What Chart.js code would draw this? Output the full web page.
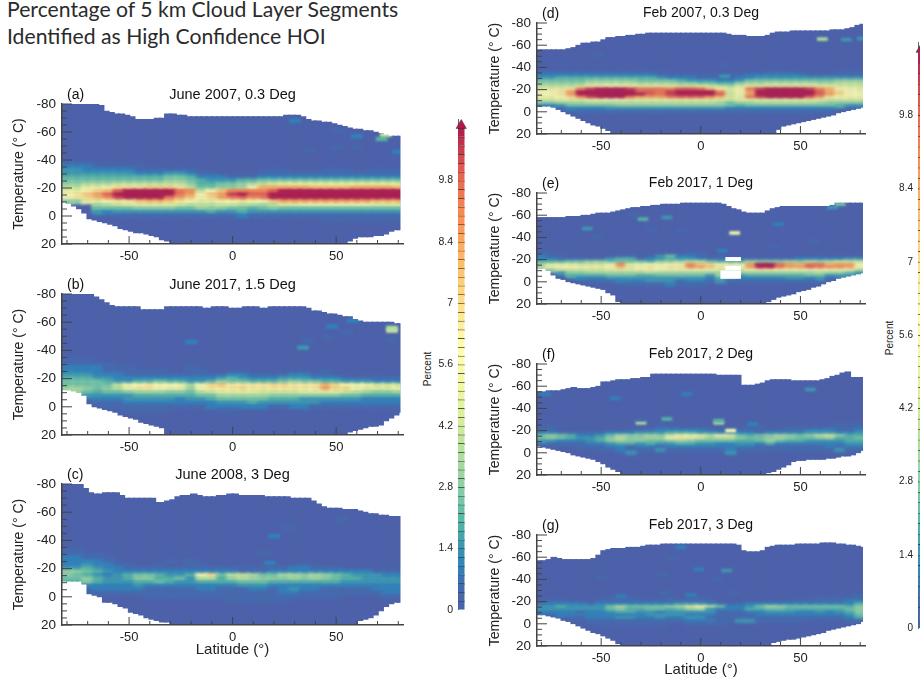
<!DOCTYPE html>
<html lang="en">
<head>
<meta charset="UTF-8">
<title>Percentage of 5 km Cloud Layer Segments</title>
<script src="https://cdn.jsdelivr.net/npm/chart.js"></script>
<style>
  html, body { margin: 0; padding: 0; background: #fff; overflow: hidden; width: 920px; height: 679px; }
  canvas { position: absolute; }
  #heading { position: absolute; left: 7px; top: -4px; font: 21.2px/27px Lato, sans-serif; color: #2b2b2b; white-space: nowrap; }
  .pct { position: absolute; font: 10px "Liberation Sans", sans-serif; color: #222; transform: translate(-50%, -50%) rotate(-90deg); }
</style>
</head>
<body>
<div id="heading">Percentage of 5 km Cloud Layer Segments<br>Identified as High Confidence HOI</div>
<span class="pct" style="left:427px;top:369px">Percent</span>
<span class="pct" style="left:889px;top:338px">Percent</span>

<script>
// latitude of each column in the cloud envelope (top/bottom arrays below)
const envLats = [-81.25,-78.75,-76.25,-73.75,-71.25,-68.75,-66.25,-63.75,-61.25,-58.75,-56.25,
  -53.75,-51.25,-48.75,-46.25,-43.75,-41.25,-38.75,-36.25,-33.75,-31.25,-28.75,
  -26.25,-23.75,-21.25,-18.75,-16.25,-13.75,-11.25,-8.75,-6.25,-3.75,-1.25,
  1.25,3.75,6.25,8.75,11.25,13.75,16.25,18.75,21.25,23.75,26.25,
  28.75,31.25,33.75,36.25,38.75,41.25,43.75,46.25,48.75,51.25,53.75,
  56.25,58.75,61.25,63.75,66.25,68.75,71.25,73.75,76.25,78.75,81.25];

// columns and rows of the percent cells
const cellLats = [-80,-75,-70,-65,-60,-55,-50,-45,-40,-35,-30,-25,-20,-15,-10,-5,0,5,10,15,20,25,30,35,40,45,50,55,60,65,70,75,80];
const cellTemps = [-37.5,-35,-32.5,-30,-27.5,-25,-22.5,-20,-17.5,-15,-12.5,-10,-7.5,-5,-2.5,0,2.5,5];

const xTickLabels = [-50,0,50];
const yTickLabels = [-80,-60,-40,-20,0,20];
const barTickLabels = [0,1.4,2.8,4.2,5.6,7,8.4,9.8];
const barLevels = [0,.2,.4,.6,.8,1,1.2,1.4,1.6,1.8,2,2.2,2.4,2.6,2.8,3,3.2,3.4,3.6,3.8,4,4.2,4.4,4.6,4.8,5,5.2,5.4,5.6,5.8,
  6,6.2,6.4,6.6,6.8,7,7.2,7.4,7.6,7.8,8,8.2,8.4,8.6,8.8,9,9.2,9.4,9.6,9.8,10,10.2,10.4,10.6,10.8];

// colour scale
const colorVals = [0,0.5,1,1.5,2,2.5,3,3.5,4,4.5,5,5.5,6,7,8,9,10,11];
const colorHex = ['#4c61a9','#4569ae','#2f82ba','#3b99b2','#55b6a6','#74c8a5','#95d5a3','#aede9f','#c5e89c','#dcf09b','#eef7a0','#f9fbac','#ffffb0','#fedf8a','#fdba66','#f98e52','#e8604f','#b2184a'];

// cell rows: one char per latitude column, value = base36 digit * 0.5 percent
const aTop = [-80,-80,-80,-80,-80,-80,-80,-79,-75,-74,-73,
  -73,-72,-71,-69,-69,-69,-69,-70,-70,-73,-73,
  -72,-72,-71,-71,-71,-71,-71,-71,-71,-71,-71,
  -71,-71,-71,-71,-71,-71,-71,-71,-71,-71,-72,
  -72,-72,-71,-69,-68,-68,-67,-67,-66,-65,-64,
  -63,-62,-62,-61,-61,-60,-59,-58,-57,-57,-57];
const aBottom = [-10,-9,-7,-5,-2,2,3,4,5,6,7,
  9,10,11,12,12,13,14,15,17,18,19,
  20,20,20,20,20,20,20,20,20,20,20,
  20,20,20,20,20,20,20,20,20,20,20,
  20,20,20,20,20,20,20,20,20,20,20,
  18,16,15,15,15,14,14,13,11,10,10];
const aCells = [
  "11100 00000 00000 00000 00000 00000 000",
  "22211 11100 00000 00000 00000 00000 000",
  "33222 22111 11100 00000 11000 11100 111",
  "33333 33222 33211 00001 11111 11111 111",
  "44444 44444 55422 21112 22222 22222 222",
  "55555 55555 66543 33445 55555 55555 555",
  "66777 88888 88644 55678 9aaaa aaaaa aaa",
  "88aab dddee ed855 667cg ggggf fffgg ggf",
  "aacef kmmmm mji8c fiiii kmmmm mmmmm mmm",
  "cdfhk mmmmm mjhcf hlmkk mmmmm mmmmm mmm",
  "cdegi lmmmm jhfbe hjkij mmmmm mmmmm mmm",
  "66aac ddfgg fdcaa bcdcc fhhhh hhhhh ggg",
  "00078 9aaaa a9888 99887 8aabb bbbbb aaa",
  "00055 55666 65576 65545 65555 55555 555",
  "00032 33333 33334 33433 33333 33333 333",
  "00000 11111 11111 11211 11111 11111 111",
  "00000 00000 00000 00000 00000 11111 111",
  ""];
const aSpotLat = [30,60,72,74,37,51,51,60,80];
const aSpotTemp = [-68,-57,-55,-58,-47,-49,-61,-49,-46];
const aSpotVal = [1,1,2,4,.5,.5,.5,.5,1];

const bTop = [-80,-80,-80,-80,-80,-80,-78,-76,-74,-72,-71,
  -71,-71,-71,-71,-69,-69,-69,-69,-69,-71,-71,
  -71,-71,-71,-71,-71,-70,-70,-71,-71,-71,-70,
  -70,-70,-71,-71,-71,-70,-70,-71,-71,-71,-71,
  -71,-71,-71,-70,-68,-68,-67,-66,-66,-65,-64,
  -64,-62,-61,-60,-60,-60,-60,-60,-60,-59,-59];
const bBottom = [-12,-12,-11,-10,-8,-2,0,1,2,3,4,
  6,7,8,9,11,12,13,14,15,20,20,
  20,20,20,20,20,20,20,20,20,20,20,
  20,20,20,20,20,20,20,20,20,20,20,
  20,20,20,20,20,20,20,20,20,20,20,
  18,17,16,15,14,14,13,10,8,6,4];
const bCells = [
  "",
  "",
  "11100 00000 00000 00000 00000 00000 000",
  "11111 00000 00000 00000 00000 00000 000",
  "22221 11000 00100 00000 00000 00000 000",
  "22221 11111 00110 00000 00000 10000 000",
  "33322 21111 11111 12211 11221 10000 000",
  "44433 22222 22222 34322 23332 22111 111",
  "55554 33445 44334 65544 45655 44333 222",
  "55555 8bcdc cb7ce fdddd eeddd gecbb 999",
  "77656 8bddc bb7cd ddedd ddddd heeca aab",
  "67545 56777 66589 aaaa9 999aa aa987 667",
  "00333 33444 44455 77777 66666 66554 444",
  "00022 23333 32334 55555 44433 33332 222",
  "00011 12222 22222 33343 33333 22222 222",
  "00001 11111 11112 22222 11221 11111 111",
  "00000 01111 00000 11000 00000 00000 000",
  ""];
const bSpotLat = [48,55,58,77,77,34,36,-20,46,77];
const bSpotTemp = [-57,-53,-61,-56,-54,-42,-47,-46,-49,-48];
const bSpotVal = [1,.5,1,3.5,4,1.5,.5,1,.5,.5];

const cTop = [-80,-80,-80,-80,-77,-74,-73,-73,-74,-74,-74,
  -72,-70,-70,-70,-70,-70,-70,-67,-67,-68,-69,
  -71,-72,-72,-73,-72,-71,-71,-71,-72,-72,-73,
  -73,-72,-72,-72,-72,-72,-71,-71,-71,-71,-71,
  -70,-70,-70,-70,-68,-66,-64,-63,-63,-63,-62,
  -62,-62,-61,-60,-59,-59,-58,-58,-57,-57,-57];
const cBottom = [-11,-11,-11,-11,-9,-2,-1,0,4,4,5,
  7,8,11,12,13,15,16,17,18,18,19,
  20,20,20,20,20,20,20,20,20,20,20,
  20,20,20,20,20,20,20,20,20,20,20,
  20,20,20,20,20,20,20,20,20,20,20,
  20,19,17,16,15,13,10,7,5,4,4];
const cCells = [
  "",
  "",
  "11000 00000 00000 00000 00000 00000 000",
  "11110 00000 00000 00000 00000 00000 000",
  "22111 00000 00000 00000 00000 00000 000",
  "22221 00000 10100 00000 00000 00000 000",
  "22322 11001 00110 00000 00010 00000 000",
  "33432 21111 11111 11111 11221 11000 000",
  "66543 22222 22222 22111 22222 22222 111",
  "65432 34554 334ce 58875 57767 65433 322",
  "55643 34664 45388 47876 66767 65443 333",
  "44643 33445 43344 44555 44444 44333 333",
  "00222 22322 22222 22333 22222 22222 222",
  "00022 22211 11122 11122 12322 11111 222",
  "00011 11111 11111 11111 12211 11111 122",
  "00000 00011 11111 11111 11111 11000 011",
  "00000 00000 00000 01111 11000 00000 000",
  ""];
const cSpotLat = [53,27,20,15,18,-22];
const cSpotTemp = [-55,-49,-43,-31,-24,-25];
const cSpotVal = [.5,.5,1,.5,1,.5];

const dTop = [-56,-56,-56,-56,-56,-56,-57,-58,-60,-62,-62,
  -63,-63,-65,-67,-67,-68,-68,-69,-69,-70,-70,
  -71,-71,-71,-71,-71,-71,-71,-71,-71,-71,-71,
  -71,-71,-71,-71,-71,-70,-69,-69,-69,-68,-68,
  -68,-68,-69,-71,-72,-72,-72,-73,-73,-73,-73,
  -73,-73,-73,-73,-74,-74,-74,-75,-76,-78,-79];
const dBottom = [-5,-5,-5,-4,-2,0,2,4,6,8,10,
  12,13,15,17,19,20,20,20,20,20,20,
  20,20,20,20,20,20,20,20,20,20,20,
  20,20,20,20,20,20,20,20,20,20,20,
  20,20,20,19,16,13,12,11,10,9,8,
  7,6,5,4,3,1,0,-1,-2,-3,-4];
const dCells = [
  "",
  "11111 11111 11100 00000 00011 10000 111",
  "22222 22222 22111 11111 12222 22111 111",
  "33444 44444 44322 21111 22333 33333 333",
  "55555 66666 55554 33322 35555 55555 666",
  "66666 88888 77776 65544 67788 88877 888",
  "88889 bbcbb aaaa9 9a987 9aaaa aaaaa 999",
  "aaadi lmmml jjjik kjfca cjlmm mmlig cba",
  "ccdhm mmmmm kkjlm mmmi9 bhmmm mmmkg ecb",
  "ccdhm mmmmm mkjlm mmmk9 bhmmm mmmkh ecc",
  "bbcei lmmmj hhhjk kkig9 ajlmm mmkhd cbb",
  "99aaa bbbba aaaaa aaaa9 aaaaa aaaa9 999",
  "66777 88888 88888 88875 77888 88876 666",
  "22355 55566 66666 66665 45555 55555 433",
  "00122 22333 33333 33332 22222 22222 011",
  "00001 11111 11111 11111 11111 11111 000",
  "",
  ""];
const dSpotLat = [61,73,81,12,12,-52];
const dSpotTemp = [-65.5,-65,-66,-42,-32,-51];
const dSpotVal = [3.5,1.5,1.5,.5,1.5,.5];

const eTop = [-58,-58,-58,-58,-58,-58,-59,-59,-59,-60,-60,
  -61,-62,-62,-62,-63,-64,-65,-66,-67,-67,-68,
  -68,-69,-69,-70,-70,-70,-70,-71,-71,-71,-71,
  -71,-71,-71,-71,-70,-68,-66,-65,-63,-62,-62,
  -62,-62,-64,-66,-67,-68,-68,-68,-68,-68,-68,
  -68,-68,-68,-68,-69,-71,-71,-71,-71,-71,-71];
const eBottom = [-12,-12,-10,-6,-3,-2,0,1,2,3,4,
  5,6,7,10,12,18,20,20,20,20,20,
  20,20,20,20,20,20,20,20,20,20,20,
  20,20,20,20,20,20,20,20,20,20,20,
  20,19,18,16,14,13,12,11,9,8,7,
  5,4,2,0,-1,-3,-4,-5,-6,-7,-8];
const eCells = [
  "",
  "",
  "",
  "",
  "",
  "11000 00000 00000 11000 00000 00000 000",
  "21100 00011 01352 21010 00000 00000 000",
  "22111 11344 12343 32111 11111 12222 233",
  "44455 66555 54667 88544 47666 76878 999",
  "7aaa9 99bia bcbcb ifecb bhmmj hgjjg hhc",
  "8cccb bbcga cdcdd ihfdc chmmj hhkji ihc",
  "06999 99aaa bbcbb bbbaa 9bddb bbbbb bb8",
  "00366 77777 78777 77775 77777 77787 753",
  "00044 44555 44555 55374 34444 44553 333",
  "00002 22333 33333 33243 22222 33231 000",
  "00000 11122 23331 22131 11111 11100 000",
  "00000 00001 11121 11000 00000 00000 000",
  ""];
const eSpotLat = [17,-29,-17,-34,-57,-52,-10,-25,39,57,37,11,66,70,-75];
const eSpotTemp = [-44,-56.5,-58,-60,-48,-40,-46,-47,-52,-37,-31,-28,-67,-70,-25];
const eSpotVal = [5.5,2,1.5,.5,1.5,.5,.5,.5,1,.5,.5,1,1.5,2.5,.5];
// white gaps in panel e
const eHoleLat = [13.75,16.25,18.75,13.75,16.25,18.75,11.25,13.75,16.25,18.75];
const eHoleTop = [-22,-22,-22,-14,-14,-14,-10,-10,-10,-10];
const eHoleBottom = [-19,-19,-19,-11,-11,-11,-3,-3,-3,-3];

const fTop = [-55,-55,-56,-56,-56,-57,-58,-59,-58,-58,-58,
  -59,-60,-64,-64,-65,-66,-66,-66,-67,-67,-68,
  -68,-71,-71,-71,-71,-71,-71,-71,-71,-71,-71,
  -71,-71,-71,-70,-70,-70,-70,-70,-61,-61,-61,
  -62,-63,-65,-66,-66,-66,-66,-65,-65,-65,-65,
  -65,-65,-66,-67,-69,-70,-72,-73,-68,-68,-68];
const fBottom = [-6,-5,-4,-3,-2,-1,0,2,3,4,5,
  6,8,10,13,15,17,19,20,20,20,20,
  20,20,20,20,20,20,20,20,20,20,20,
  20,20,20,20,20,20,20,20,20,20,20,
  20,19,18,17,15,13,11,8,7,7,6,
  6,6,6,5,5,4,3,3,2,0,-2];
const fCells = [
  "",
  "",
  "",
  "",
  "",
  "00000 00000 00000 00000 00000 00000 111",
  "11000 00000 00110 00000 01100 11001 111",
  "00000 00001 11222 22111 11101 11222 112",
  "22111 11222 33344 43322 22122 22333 223",
  "56542 23576 6769b ba8ba 54567 65689 644",
  "56543 34686 677cd a9788 65567 65567 445",
  "33222 34676 65567 65555 44575 44333 344",
  "01111 22344 34334 43322 33242 22222 233",
  "00001 11221 22122 22222 22111 11112 122",
  "00000 01121 11311 11112 11111 11111 311",
  "00000 00003 00000 00003 00000 00000 000",
  "",
  ""];
const fSpotLat = [-30,-17,9,9,15,-7,-43,55,-78,26,-30];
const fSpotTemp = [-27,-30.5,-27,-29,-20,-53,-49,-57,-53,-26,-30];
const fSpotVal = [3.5,2,3.5,2,6,1,1,1.5,1,1,.5];

const gTop = [-57,-57,-58,-60,-59,-58,-58,-58,-58,-58,-58,
  -59,-62,-66,-67,-68,-68,-68,-69,-69,-69,-70,
  -71,-71,-71,-72,-72,-72,-72,-72,-72,-72,-72,
  -72,-72,-72,-72,-72,-72,-72,-71,-66,-65,-65,
  -65,-66,-69,-70,-71,-71,-71,-71,-72,-72,-72,
  -72,-72,-73,-73,-73,-72,-72,-71,-71,-70,-69];
const gBottom = [-8,-8,-7,-6,-5,-3,-2,0,2,4,6,
  8,9,11,13,15,18,20,20,20,20,20,
  20,20,20,20,20,20,20,20,20,20,20,
  20,20,20,20,20,20,20,20,20,20,20,
  20,20,19,17,16,15,14,14,13,12,11,
  10,9,8,6,5,4,3,2,1,0,-2];
const gCells = [
  "",
  "",
  "",
  "",
  "",
  "00000 00000 00000 00000 00000 00000 001",
  "00000 00111 00010 11000 00000 00011 111",
  "11100 01111 11111 11100 00000 01111 122",
  "12222 12222 22223 33210 12222 22222 224",
  "33433 33575 55567 9b852 23576 55555 546",
  "33333 33564 45545 78322 24455 44444 456",
  "22221 22344 33233 33311 12233 32232 346",
  "01222 22222 23333 22211 11222 22222 235",
  "00011 22233 22322 33111 11111 11111 124",
  "00000 11111 11111 22211 33111 11000 011",
  "00000 01111 11100 11110 00000 00000 000",
  "",
  ""];
const gSpotLat = [-10,-1,13,-50,-19,8,-14,-5,17,-18,-40];
const gSpotTemp = [-69,-49,-48,-42,-44,-40,-59,-26,-28,-28,-25];
const gSpotVal = [1,1,1.5,.5,.5,.5,.5,1,.5,.5,1];

const FONT = '"Liberation Sans", Arial, sans-serif';
const INK = '#222';
const CELL_BLUR = { 1: 'blur(1.5px)', 2: 'blur(1px)' };

function colorFor(v) {
  if (v >= 11) return colorHex[colorHex.length - 1];
  let i = 0;
  while (colorVals[i + 1] < v) i++;
  const t = (v - colorVals[i]) / (colorVals[i + 1] - colorVals[i]);
  const a = parseInt(colorHex[i].slice(1), 16), b = parseInt(colorHex[i + 1].slice(1), 16);
  const mix = s => Math.round(((a >> s) & 255) * (1 - t) + ((b >> s) & 255) * t);
  return `rgb(${mix(16)},${mix(8)},${mix(0)})`;
}

// inward tick marks, the (a) style panel letter, and soft edges on the cell datasets
const panelMarks = {
  id: 'panelMarks',
  beforeDatasetDraw(chart, args) {
    if (!CELL_BLUR[args.index]) return;
    chart.ctx.filter = CELL_BLUR[args.index];
    chart.ctx.globalCompositeOperation = 'source-atop';
  },
  afterDatasetDraw(chart, args) {
    if (!CELL_BLUR[args.index]) return;
    chart.ctx.filter = 'none';
    chart.ctx.globalCompositeOperation = 'source-over';
  },
  afterDatasetsDraw(chart, args, opts) {
    const { ctx, chartArea, scales } = chart;
    ctx.save();
    ctx.strokeStyle = '#444';
    ctx.lineWidth = 1;
    ctx.beginPath();
    scales.y.ticks.forEach(t => {
      const y = scales.y.getPixelForValue(t.value);
      const len = yTickLabels.includes(t.value) ? 10 : 5;
      ctx.moveTo(chartArea.left, y);
      ctx.lineTo(chartArea.left + len, y);
    });
    scales.x.ticks.forEach(t => {
      const x = scales.x.getPixelForValue(t.value);
      const len = xTickLabels.includes(t.value) ? 8 : 4;
      ctx.moveTo(x, chartArea.bottom);
      ctx.lineTo(x, chartArea.bottom - len);
    });
    ctx.stroke();
    ctx.fillStyle = '#111';
    ctx.font = '14px ' + FONT;
    ctx.textBaseline = 'middle';
    ctx.fillText(opts.letter, chartArea.left + 5, chartArea.top - 8.5);
    ctx.restore();
  }
};

function makeCanvas(left, top, w, h) {
  const c = document.createElement('canvas');
  c.width = w; c.height = h;
  c.style.left = left + 'px'; c.style.top = top + 'px';
  c.style.width = w + 'px'; c.style.height = h + 'px';
  document.body.appendChild(c);
  return c;
}

function drawPanel(p) {
  const axisW = 55, headH = 18, rightPad = 5;
  const axisH = p.xTitle ? p.xTitleH : 24;
  const plotW = p.right - p.left, plotH = p.bottom - p.top;
  const canvas = makeCanvas(p.left - axisW, p.top - headH, axisW + plotW + rightPad, headH + plotH + axisH);
  const pxPerDeg = plotW / (p.xMax - p.xMin);

  const cells = [], cellColors = [];
  p.cells.forEach((row, r) => {
    row.replace(/ /g, '').split('').forEach((ch, c) => {
      const v = parseInt(ch, 36) * 0.5;
      if (!v) return;
      cells.push({ x: cellLats[c], y: [cellTemps[r] - 1.5, cellTemps[r] + 1.25] });
      cellColors.push(colorFor(v));
    });
  });

  const clip = { left: 0, top: 0, bottom: 0, right: -p.clipRight };
  const thin = Math.ceil(2.5 * pxPerDeg), wide = Math.ceil(5 * pxPerDeg) + 1;
  // index matters: 1 and 2 get the soft edge in panelMarks; lower order draws on top
  const datasets = [
    { order: 4, grouped: false, clip, barThickness: thin + 1, backgroundColor: colorFor(0),
      data: envLats.map((lat, i) => ({ x: lat, y: [p.topT[i], p.bottomT[i]] })) },
    { order: 3, grouped: false, clip, barThickness: wide, backgroundColor: cellColors, data: cells },
    { order: 2, grouped: false, clip, barThickness: wide - 1, backgroundColor: p.spotVal.map(colorFor),
      data: p.spotLat.map((lat, i) => ({ x: lat, y: [p.spotTemp[i] - 1.25, p.spotTemp[i] + 1.25] })) }
  ];
  if (p.holeLat) {
    datasets.push({ order: 1, grouped: false, clip, barThickness: thin, backgroundColor: '#fff',
      data: p.holeLat.map((lat, i) => ({ x: lat, y: [p.holeTop[i], p.holeBottom[i]] })) });
  }

  new Chart(canvas, {
    type: 'bar',
    data: { datasets },
    plugins: [panelMarks],
    options: {
      responsive: false,
      animation: false,
      devicePixelRatio: 1,
      layout: { padding: { right: rightPad } },
      plugins: {
        legend: { display: false },
        tooltip: { enabled: false },
        title: {
          display: true, text: p.title, color: '#111', fullSize: false,
          font: { family: FONT, size: p.titleSize, weight: 'normal' },
          padding: { top: 0, bottom: headH - p.titleSize * 1.2 }
        },
        panelMarks: { letter: p.letter }
      },
      scales: {
        x: {
          type: 'linear', min: p.xMin, max: p.xMax, offset: false,
          grid: { display: false, drawTicks: false },
          border: { color: '#444', width: 1.5, z: 1 },
          afterFit: s => { s.height = axisH; },
          title: { display: !!p.xTitle, text: p.xTitle, color: INK, padding: 0, font: { family: FONT, size: 15 } },
          ticks: {
            stepSize: 10, includeBounds: false, autoSkip: false, maxRotation: 0, padding: 5, color: INK,
            font: { family: FONT, size: 13 },
            callback: v => xTickLabels.includes(v) ? String(v) : ''
          }
        },
        y: {
          reverse: true, min: -80, max: 20,
          grid: { display: false, drawTicks: false },
          border: { color: '#444', width: 1.5, z: 1 },
          afterFit: s => { s.width = axisW; },
          title: { display: true, text: 'Temperature (° C)', color: INK, padding: { top: p.yTitlePad, bottom: 0 }, font: { family: FONT, size: 14 } },
          ticks: {
            stepSize: 5, autoSkip: false, padding: 6, color: INK,
            font: { family: FONT, size: 13.5 },
            callback: v => yTickLabels.includes(v) ? String(v) : ''
          }
        }
      }
    }
  });
}

function drawColorbar(b) {
  const canvas = makeCanvas(b.left - b.axisW, b.top - 8, b.axisW + b.width + 3, b.bottom - b.top + 16);
  new Chart(canvas, {
    data: {
      labels: ['p'],
      datasets: [
        { type: 'line', order: 1, showLine: false, pointStyle: 'triangle', pointRadius: b.width * 0.6,
          pointBackgroundColor: colorFor(11), pointBorderColor: '#333', pointBorderWidth: 0.5,
          data: [{ x: 'p', y: 11.06 }] },
        { type: 'bar', order: 2, grouped: false, barThickness: b.width,
          backgroundColor: barLevels.map(l => colorFor(l + 0.1)),
          borderColor: '#3a3a3a', borderSkipped: false,
          borderWidth: { top: 1, bottom: 0, left: 0, right: 0 },
          data: barLevels.map(l => ({ x: 'p', y: [l, l + 0.2] })) }
      ]
    },
    options: {
      responsive: false,
      animation: false,
      devicePixelRatio: 1,
      layout: { padding: { top: 8, bottom: 8, right: 3 } },
      plugins: { legend: { display: false }, tooltip: { enabled: false } },
      scales: {
        x: { type: 'category', display: false },
        y: {
          min: 0, max: 11.2,
          grid: { display: false, drawTicks: false },
          border: { color: '#666', width: 1 },
          afterFit: s => { s.width = b.axisW; },
          afterBuildTicks: s => { s.ticks = barTickLabels.map(value => ({ value })); },
          ticks: { padding: 5, autoSkip: false, color: INK, font: { family: FONT, size: b.fontSize }, callback: v => String(v) }
        }
      }
    }
  });
}

const leftCol = { left: 62, right: 403, xMin: -82.4, xMax: 82.3, titleSize: 14.5, yTitlePad: 3.5, clipRight: 2.5, xTitleH: 34 };
const rightCol = { left: 537, right: 865, xMin: -82.2, xMax: 82.4, titleSize: 14, yTitlePad: 5, clipRight: 2, xTitleH: 33 };

[
  { ...leftCol, top: 104, bottom: 244, letter: '(a)', title: 'June 2007, 0.3 Deg', topT: aTop, bottomT: aBottom, cells: aCells, spotLat: aSpotLat, spotTemp: aSpotTemp, spotVal: aSpotVal },
  { ...leftCol, top: 294, bottom: 435, letter: '(b)', title: 'June 2017, 1.5 Deg', topT: bTop, bottomT: bBottom, cells: bCells, spotLat: bSpotLat, spotTemp: bSpotTemp, spotVal: bSpotVal },
  { ...leftCol, top: 484, bottom: 625, letter: '(c)', title: 'June 2008, 3 Deg', xTitle: 'Latitude (°)', topT: cTop, bottomT: cBottom, cells: cCells, spotLat: cSpotLat, spotTemp: cSpotTemp, spotVal: cSpotVal },
  { ...rightCol, top: 23, bottom: 134, letter: '(d)', title: 'Feb 2007, 0.3 Deg', topT: dTop, bottomT: dBottom, cells: dCells, spotLat: dSpotLat, spotTemp: dSpotTemp, spotVal: dSpotVal },
  { ...rightCol, top: 193, bottom: 304, letter: '(e)', title: 'Feb 2017, 1 Deg', topT: eTop, bottomT: eBottom, cells: eCells, spotLat: eSpotLat, spotTemp: eSpotTemp, spotVal: eSpotVal, holeLat: eHoleLat, holeTop: eHoleTop, holeBottom: eHoleBottom },
  { ...rightCol, top: 364, bottom: 475, letter: '(f)', title: 'Feb 2017, 2 Deg', topT: fTop, bottomT: fBottom, cells: fCells, spotLat: fSpotLat, spotTemp: fSpotTemp, spotVal: fSpotVal },
  { ...rightCol, top: 535, bottom: 646, letter: '(g)', title: 'Feb 2017, 3 Deg', xTitle: 'Latitude (°)', topT: gTop, bottomT: gBottom, cells: gCells, spotLat: gSpotLat, spotTemp: gSpotTemp, spotVal: gSpotVal }
].forEach(drawPanel);

drawColorbar({ left: 458, width: 10, top: 116, bottom: 613, axisW: 48, fontSize: 10.5 });
drawColorbar({ left: 918, width: 10, top: 39, bottom: 631, axisW: 48, fontSize: 10 });
</script>
</body>
</html>
